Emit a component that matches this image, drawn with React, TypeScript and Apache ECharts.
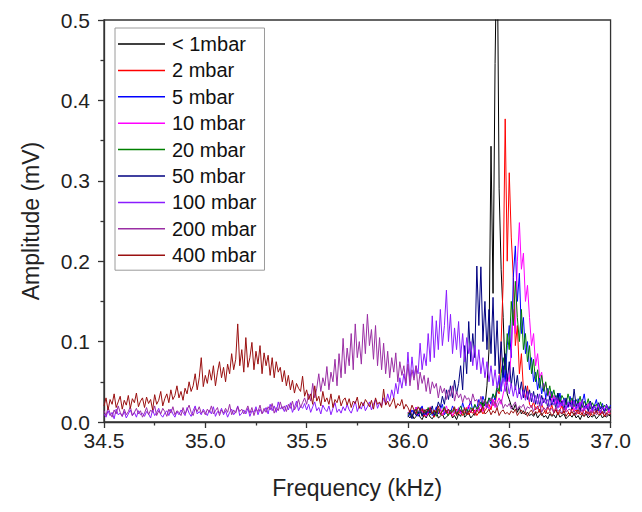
import React, { useEffect, useRef } from "react";
import * as echarts from "echarts";

// Frequency grids (kHz)
const NARROW_START = 36.0; // series recorded from 36.0 to 37.0 kHz
const WIDE_START = 34.5; // series recorded from 34.5 to 37.0 kHz
const FREQ_STEP = 0.01;

// Amplitudes in µV (converted to mV for plotting)
const ampBelow1: number[] = [
  8, 5, 10, 4, 7, 12, 6, 3, 9, 5,
  11, 6, 4, 8, 13, 5, 7, 10, 4, 6,
  9, 12, 5, 8, 3, 10, 7, 14, 6, 9,
  11, 5, 8, 12, 15, 18, 12, 25, 20, 45,
  90, 343, 160, 446, 620, 290, 190, 130, 60, 35,
  28, 20, 15, 22, 12, 18, 10, 14, 9, 12,
  8, 10, 7, 12, 5, 9, 11, 6, 8, 4,
  10, 7, 9, 5, 12, 6, 8, 10, 4, 7,
  9, 6, 11, 5, 8, 3, 9, 7, 10, 5,
  8, 6, 9, 4, 7, 10, 5, 8, 6, 9,
  7,
];
const amp2: number[] = [
  10, 14, 6, 12, 18, 8, 11, 15, 7, 13,
  9, 16, 12, 6, 14, 10, 17, 8, 12, 15,
  9, 13, 7, 11, 16, 10, 14, 8, 12, 18,
  9, 13, 11, 15, 8, 12, 16, 10, 14, 18,
  22, 15, 28, 20, 40, 35, 100, 174, 377, 200,
  310, 230, 180, 95, 120, 60, 85, 40, 30, 45,
  22, 18, 25, 15, 20, 12, 22, 16, 10, 19,
  14, 21, 12, 17, 9, 15, 20, 11, 16, 13,
  8, 18, 12, 15, 10, 14, 9, 17, 11, 13,
  8, 15, 10, 12, 16, 9, 13, 7, 11, 14,
  10,
];
const amp5: number[] = [
  12, 8, 15, 10, 18, 7, 13, 20, 9, 14,
  11, 17, 8, 12, 19, 10, 15, 22, 9, 13,
  16, 11, 20, 14, 9, 17, 12, 24, 15, 10,
  19, 26, 14, 21, 17, 28, 20, 32, 24, 18,
  30, 22, 35, 27, 40, 55, 38, 70, 50, 95,
  120, 80, 180, 219, 150, 185, 110, 130, 85, 100,
  65, 80, 50, 62, 40, 55, 35, 48, 30, 42,
  28, 38, 25, 33, 22, 36, 20, 30, 24, 18,
  32, 21, 27, 16, 29, 19, 24, 35, 17, 22,
  26, 15, 20, 28, 14, 18, 23, 13, 19, 16,
  21,
];
const amp10: number[] = [
  10, 15, 8, 12, 18, 9, 14, 11, 16, 7,
  13, 19, 10, 15, 8, 12, 17, 9, 14, 20,
  11, 13, 8, 16, 12, 18, 10, 14, 9, 15,
  21, 12, 17, 11, 19, 14, 22, 13, 18, 25,
  16, 20, 28, 18, 24, 30, 22, 35, 45, 60,
  50, 90, 140, 110, 200, 248, 190, 210, 150, 170,
  130, 95, 110, 70, 85, 55, 62, 40, 48, 32,
  38, 26, 33, 22, 29, 18, 27, 21, 15, 24,
  19, 28, 14, 22, 17, 25, 13, 20, 16, 23,
  12, 18, 21, 14, 19, 11, 17, 15, 20, 12,
  16,
];
const amp20: number[] = [
  9, 14, 7, 12, 16, 10, 13, 8, 15, 11,
  18, 9, 12, 14, 7, 16, 10, 13, 19, 11,
  8, 15, 12, 17, 10, 14, 20, 13, 9, 16,
  12, 18, 14, 22, 16, 20, 25, 18, 28, 22,
  30, 26, 35, 30, 45, 38, 60, 80, 65, 110,
  90, 150, 120, 175, 130, 100, 140, 90, 110, 75,
  95, 60, 78, 50, 65, 42, 58, 38, 50, 33,
  45, 30, 40, 27, 36, 24, 33, 28, 21, 35,
  25, 30, 19, 28, 23, 32, 18, 26, 20, 29,
  16, 24, 19, 22, 15, 25, 17, 21, 14, 19,
  16,
];
const amp50: number[] = [
  6, 12, 4, 15, 8, 10, 18, 7, 13, 9,
  16, 11, 20, 8, 14, 25, 18, 32, 22, 40,
  28, 45, 30, 52, 35, 48, 70, 40, 95, 60,
  125, 75, 110, 80, 194, 120, 193, 100, 150, 90,
  140, 85, 155, 70, 126, 60, 100, 55, 85, 50,
  75, 45, 68, 40, 58, 35, 50, 30, 45, 28,
  40, 25, 38, 22, 35, 20, 33, 24, 30, 18,
  32, 21, 28, 17, 36, 22, 26, 15, 30, 19,
  25, 16, 41, 20, 24, 14, 28, 18, 22, 13,
  26, 17, 21, 12, 24, 16, 20, 11, 22, 15,
  18,
];
const amp100: number[] = [
  10, 6, 14, 8, 12, 4, 16, 9, 11, 7,
  13, 5, 10, 15, 8, 12, 6, 14, 9, 11,
  7, 13, 10, 5, 15, 8, 12, 17, 9, 6,
  11, 14, 8, 16, 10, 6, 13, 9, 15, 12,
  8, 18, 11, 7, 14, 20, 10, 13, 9, 16,
  12, 8, 15, 10, 19, 7, 13, 11, 17, 9,
  14, 6, 12, 16, 9, 13, 20, 8, 11, 15,
  10, 17, 7, 14, 12, 19, 9, 16, 11, 13,
  18, 10, 22, 14, 20, 12, 25, 16, 19, 13,
  21, 15, 24, 12, 18, 26, 14, 20, 17, 23,
  15, 22, 12, 19, 25, 14, 18, 10, 21, 16,
  13, 20, 9, 17, 24, 12, 16, 11, 19, 14,
  22, 15, 11, 18, 26, 13, 20, 16, 24, 14,
  19, 25, 15, 22, 28, 17, 24, 20, 30, 22,
  35, 26, 40, 30, 48, 35, 55, 42, 60, 45,
  87, 50, 81, 55, 70, 60, 98, 65, 85, 70,
  110, 75, 132, 80, 126, 90, 140, 95, 120, 164,
  100, 134, 85, 117, 90, 125, 80, 110, 75, 105,
  85, 100, 70, 95, 65, 90, 60, 80, 55, 75,
  50, 70, 45, 65, 42, 58, 40, 55, 38, 50,
  35, 48, 32, 45, 30, 42, 28, 40, 27, 38,
  25, 36, 24, 33, 22, 35, 20, 30, 23, 28,
  19, 27, 21, 31, 17, 25, 20, 28, 16, 24,
  22, 18, 26, 15, 23, 19, 27, 14, 21, 17,
  24, 13, 20, 16, 22, 12, 19, 15, 21, 14,
  17,
];
const amp200: number[] = [
  14, 8, 18, 11, 6, 15, 10, 20, 12, 7,
  16, 9, 13, 19, 8, 12, 17, 10, 14, 6,
  11, 18, 9, 15, 12, 20, 8, 14, 10, 17,
  13, 7, 16, 11, 19, 9, 14, 12, 8, 18,
  10, 15, 21, 12, 8, 17, 13, 19, 11, 14,
  9, 16, 12, 20, 10, 14, 18, 8, 15, 11,
  17, 12, 22, 9, 15, 11, 19, 13, 16, 10,
  14, 20, 11, 18, 8, 16, 13, 21, 10, 17,
  12, 19, 15, 23, 11, 18, 14, 25, 16, 20,
  13, 22, 17, 26, 15, 20, 28, 18, 24, 30,
  22, 35, 26, 48, 30, 42, 60, 38, 55, 45,
  69, 40, 62, 50, 78, 45, 85, 55, 104, 60,
  92, 70, 110, 65, 122, 80, 100, 72, 122, 85,
  134, 95, 115, 78, 120, 70, 105, 65, 98, 60,
  88, 55, 80, 62, 86, 50, 75, 58, 70, 48,
  72, 45, 65, 52, 70, 40, 62, 48, 58, 38,
  55, 35, 50, 42, 48, 30, 45, 36, 42, 28,
  40, 32, 45, 26, 38, 30, 35, 24, 33, 28,
  30, 22, 35, 26, 28, 20, 32, 24, 27, 19,
  25, 30, 20, 26, 18, 24, 28, 17, 22, 19,
  23, 16, 21, 25, 15, 20, 18, 22, 14, 19,
  17, 21, 13, 19, 16, 22, 12, 18, 15, 20,
  14, 17, 11, 19, 13, 16, 10, 18, 12, 15,
  16, 11, 14, 9, 17, 12, 15, 10, 13, 8,
  14, 11, 16, 9, 12, 15, 10, 13, 8, 12,
  11,
];
const amp400: number[] = [
  20, 30, 15, 28, 22, 35, 18, 25, 32, 16,
  27, 21, 33, 17, 29, 24, 36, 19, 26, 30,
  18, 31, 23, 28, 15, 34, 22, 27, 38, 20,
  29, 35, 24, 40, 28, 33, 45, 30, 38, 27,
  42, 35, 50, 38, 45, 60, 40, 55, 80, 44,
  58, 48, 65, 52, 70, 45, 62, 75, 55, 68,
  50, 72, 60, 85, 65, 78, 122, 70, 90, 62,
  105, 68, 80, 99, 65, 88, 72, 95, 60, 86,
  70, 83, 58, 80, 55, 75, 62, 68, 50, 64,
  45, 58, 40, 52, 36, 48, 42, 38, 57, 32,
  40, 28, 35, 22, 45, 26, 32, 20, 38, 25,
  30, 22, 35, 18, 28, 24, 33, 20, 27, 30,
  21, 29, 18, 26, 23, 31, 17, 25, 20, 28,
  24, 19, 27, 16, 30, 22, 25, 18, 41, 21,
  26, 19, 24, 30, 17, 23, 20, 28, 16, 22,
  18, 12, 21, 15, 10, 19, 14, 17, 11, 16,
  13, 18, 10, 15, 12, 20, 9, 14, 17, 11,
  16, 10, 14, 19, 8, 13, 15, 11, 18, 9,
  14, 12, 17, 8, 15, 11, 13, 19, 10, 12,
  16, 9, 14, 11, 18, 8, 13, 15, 10, 12,
  9, 14, 11, 16, 8, 12, 15, 10, 13, 7,
  12, 15, 9, 13, 11, 16, 8, 12, 14, 10,
  13, 8, 11, 15, 9, 12, 10, 14, 7, 11,
  10, 13, 8, 12, 15, 9, 11, 7, 13, 10,
  12, 8, 11, 14, 9, 10, 13, 7, 11, 9,
  10,
];

const seriesNames = [
  "< 1mbar", "2 mbar", "5 mbar", "10 mbar", "20 mbar",
  "50 mbar", "100 mbar", "200 mbar", "400 mbar",
];
const seriesColors = [
  "#000000", "#ff0000", "#0000ff", "#ff00ff", "#008000",
  "#000080", "#8a1cff", "#9a2ea4", "#9a1010",
];
const seriesAmps = [ampBelow1, amp2, amp5, amp10, amp20, amp50, amp100, amp200, amp400];
const seriesStarts = [
  NARROW_START, NARROW_START, NARROW_START, NARROW_START, NARROW_START,
  NARROW_START, WIDE_START, WIDE_START, WIDE_START,
];

const xTicks = { min: 34.5, max: 37.0, interval: 0.5 };
const yTicks = { min: 0, max: 0.5, interval: 0.1 };

const FONT = "'Liberation Sans', Arial, sans-serif";

function toPairs(start: number, amps: number[]) {
  return amps.map((a, i) => [+(start + i * FREQ_STEP).toFixed(2), a / 1000]);
}

export default function App() {
  const ref = useRef<HTMLDivElement>(null);
  useEffect(() => {
    if (!ref.current) return;
    const chart = echarts.init(ref.current, undefined, { renderer: "svg" });
    const axisColor = "#333";
    chart.setOption({
      animation: false,
      textStyle: { fontFamily: FONT },
      grid: {
        left: 96, top: 12, width: 516, height: 414,
        show: true, borderColor: axisColor, borderWidth: 1.3, backgroundColor: "transparent",
      },
      legend: {
        data: seriesNames,
        orient: "vertical",
        left: 107, top: 20,
        padding: [6, 8, 5, 3],
        itemGap: 6.4,
        itemWidth: 47, itemHeight: 1.5,
        icon: "rect",
        borderColor: "#9a9a9a", borderWidth: 1,
        textStyle: { fontSize: 20, color: "#111", fontFamily: FONT, lineHeight: 20, padding: [0, 0, 0, 2] },
      },
      xAxis: {
        type: "value",
        min: xTicks.min, max: xTicks.max, interval: xTicks.interval,
        name: "Frequency (kHz)",
        nameLocation: "middle", nameGap: 54,
        nameTextStyle: { fontSize: 23, color: "#222", fontFamily: FONT },
        axisLine: { show: true, onZero: false, lineStyle: { color: axisColor, width: 1.3 } },
        axisTick: { show: true, inside: false, length: 6, lineStyle: { color: axisColor, width: 1.3 } },
        minorTick: { show: true, splitNumber: 2, length: 3.5, lineStyle: { color: axisColor, width: 1.3 } },
        axisLabel: { fontSize: 21, color: "#222", margin: 8, formatter: (v: number) => v.toFixed(1) },
        splitLine: { show: false },
      },
      yAxis: {
        type: "value",
        min: yTicks.min, max: yTicks.max, interval: yTicks.interval,
        name: "Amplitude (mV)",
        nameLocation: "middle", nameGap: 62,
        nameTextStyle: { fontSize: 23, color: "#222", fontFamily: FONT },
        axisLine: { show: true, onZero: false, lineStyle: { color: axisColor, width: 1.3 } },
        axisTick: { show: true, inside: false, length: 6, lineStyle: { color: axisColor, width: 1.3 } },
        minorTick: { show: true, splitNumber: 2, length: 3.5, lineStyle: { color: axisColor, width: 1.3 } },
        axisLabel: { fontSize: 21, color: "#222", margin: 14, formatter: (v: number) => v.toFixed(1) },
        splitLine: { show: false },
      },
      series: seriesNames.map((name, k) => ({
        name,
        type: "line",
        data: toPairs(seriesStarts[k], seriesAmps[k]),
        showSymbol: false,
        symbol: "none",
        color: seriesColors[k],
        lineStyle: { width: 1, color: seriesColors[k] },
        clip: true,
        silent: true,
      })),
    });
    return () => chart.dispose();
  }, []);
  return <div ref={ref} style={{ width: 626, height: 496 }} />;
}
